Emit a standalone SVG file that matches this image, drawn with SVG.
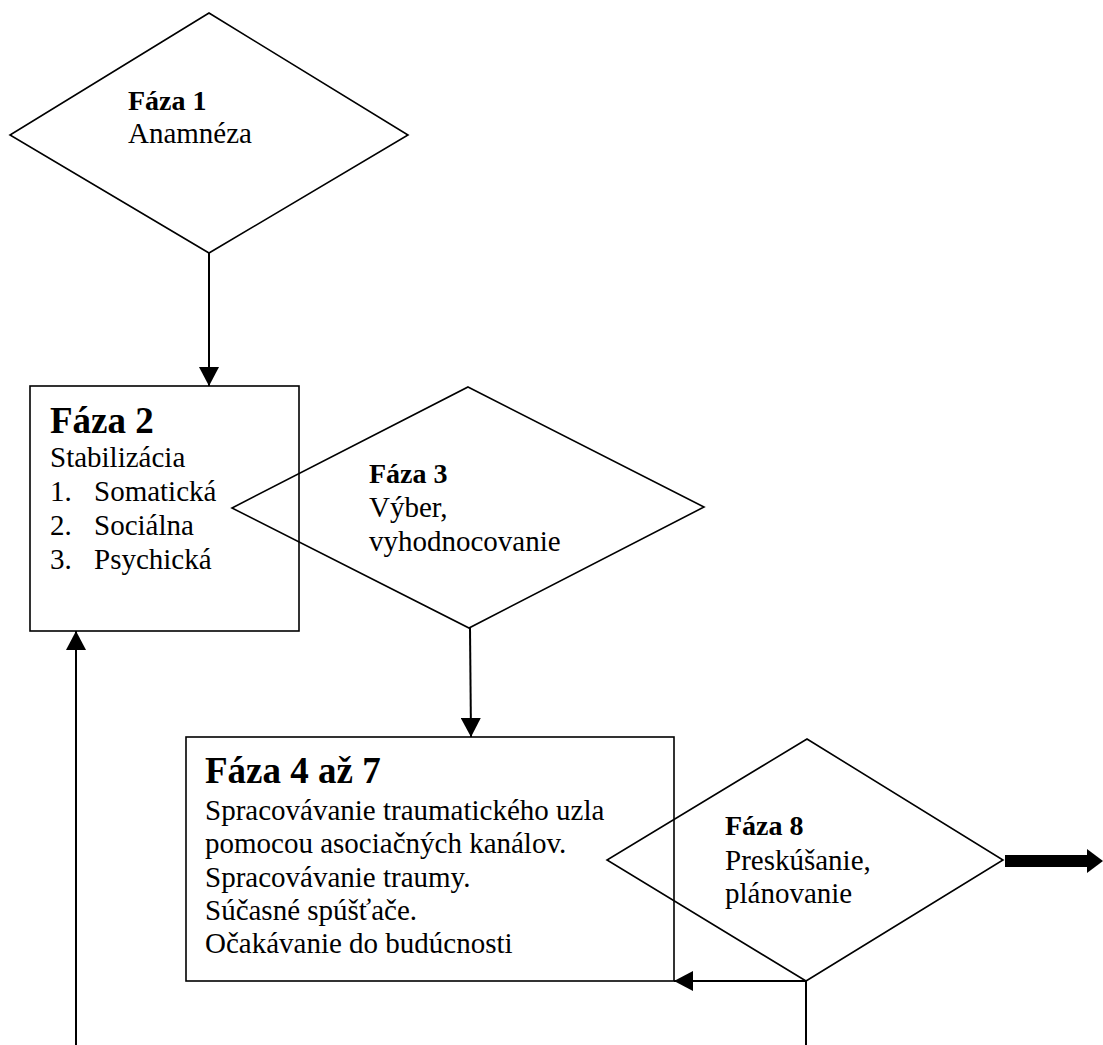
<svg xmlns="http://www.w3.org/2000/svg" width="1103" height="1045" viewBox="0 0 1103 1045">
<style>
.shape{fill:#fff;stroke:#000;stroke-width:1.6}
.line{fill:none;stroke:#000;stroke-width:2}
text{font-family:"Liberation Serif","Times New Roman",serif;fill:#000}
.b{font-weight:bold;font-size:28px}
.h{font-weight:bold;font-size:37px}
.t{font-size:29px}
</style>
<defs>
<marker id="ah" markerWidth="20" markerHeight="20" viewBox="0 0 20 20" refX="19" refY="10" orient="auto" markerUnits="userSpaceOnUse">
<path d="M0,0 L19,10 L0,20 Z" fill="#000"/>
</marker>
</defs>
<rect width="1103" height="1045" fill="#fff"/>
<g id="connectors">
<line class="line" x1="209" y1="253" x2="209" y2="386" marker-end="url(#ah)"/>
<line class="line" x1="470" y1="628" x2="471" y2="737" marker-end="url(#ah)"/>
<line class="line" x1="806" y1="981" x2="674" y2="981" marker-end="url(#ah)"/>
<line class="line" x1="806" y1="981" x2="806" y2="1045"/>
<line class="line" x1="76" y1="1045" x2="76" y2="631" marker-end="url(#ah)"/>
<line x1="1005" y1="861" x2="1088" y2="861" stroke="#000" stroke-width="12"/>
<path d="M1087,849 L1103,861 L1087,873 Z" fill="#000"/>
</g>
<g id="faza1">
<polygon class="shape" points="209,13 408,135 209,253 10,135"/>
<text class="b" x="128" y="110">Fáza 1</text>
<text class="t" x="128" y="143">Anamnéza</text>
</g>
<g id="faza2">
<rect class="shape" x="30" y="386" width="269" height="245"/>
<text class="h" x="50" y="433">Fáza 2</text>
<text class="t" x="50" y="467">Stabilizácia</text>
<text class="t" x="50" y="501">1.</text><text class="t" x="94" y="501">Somatická</text>
<text class="t" x="50" y="535">2.</text><text class="t" x="94" y="535">Sociálna</text>
<text class="t" x="50" y="569">3.</text><text class="t" x="94" y="569">Psychická</text>
</g>
<g id="faza3">
<polygon class="shape" points="468,387 704,507 469,628 232,508" fill-opacity="0"/>
<text class="b" x="369" y="483">Fáza 3</text>
<text class="t" x="369" y="517">Výber,</text>
<text class="t" x="369" y="551">vyhodnocovanie</text>
</g>
<g id="faza4-7">
<rect class="shape" x="186" y="737" width="488" height="244"/>
<text class="h" x="205" y="783">Fáza 4 až 7</text>
<text class="t" x="205" y="820">Spracovávanie traumatického uzla</text>
<text class="t" x="205" y="853">pomocou asociačných kanálov.</text>
<text class="t" x="205" y="887">Spracovávanie traumy.</text>
<text class="t" x="205" y="920">Súčasné spúšťače.</text>
<text class="t" x="205" y="953">Očakávanie do budúcnosti</text>
</g>
<g id="faza8">
<polygon class="shape" points="807,739 1003,860 806,981 607,860" fill-opacity="0"/>
<text class="b" x="725" y="835">Fáza 8</text>
<text class="t" x="725" y="870">Preskúšanie,</text>
<text class="t" x="725" y="903">plánovanie</text>
</g>
</svg>
